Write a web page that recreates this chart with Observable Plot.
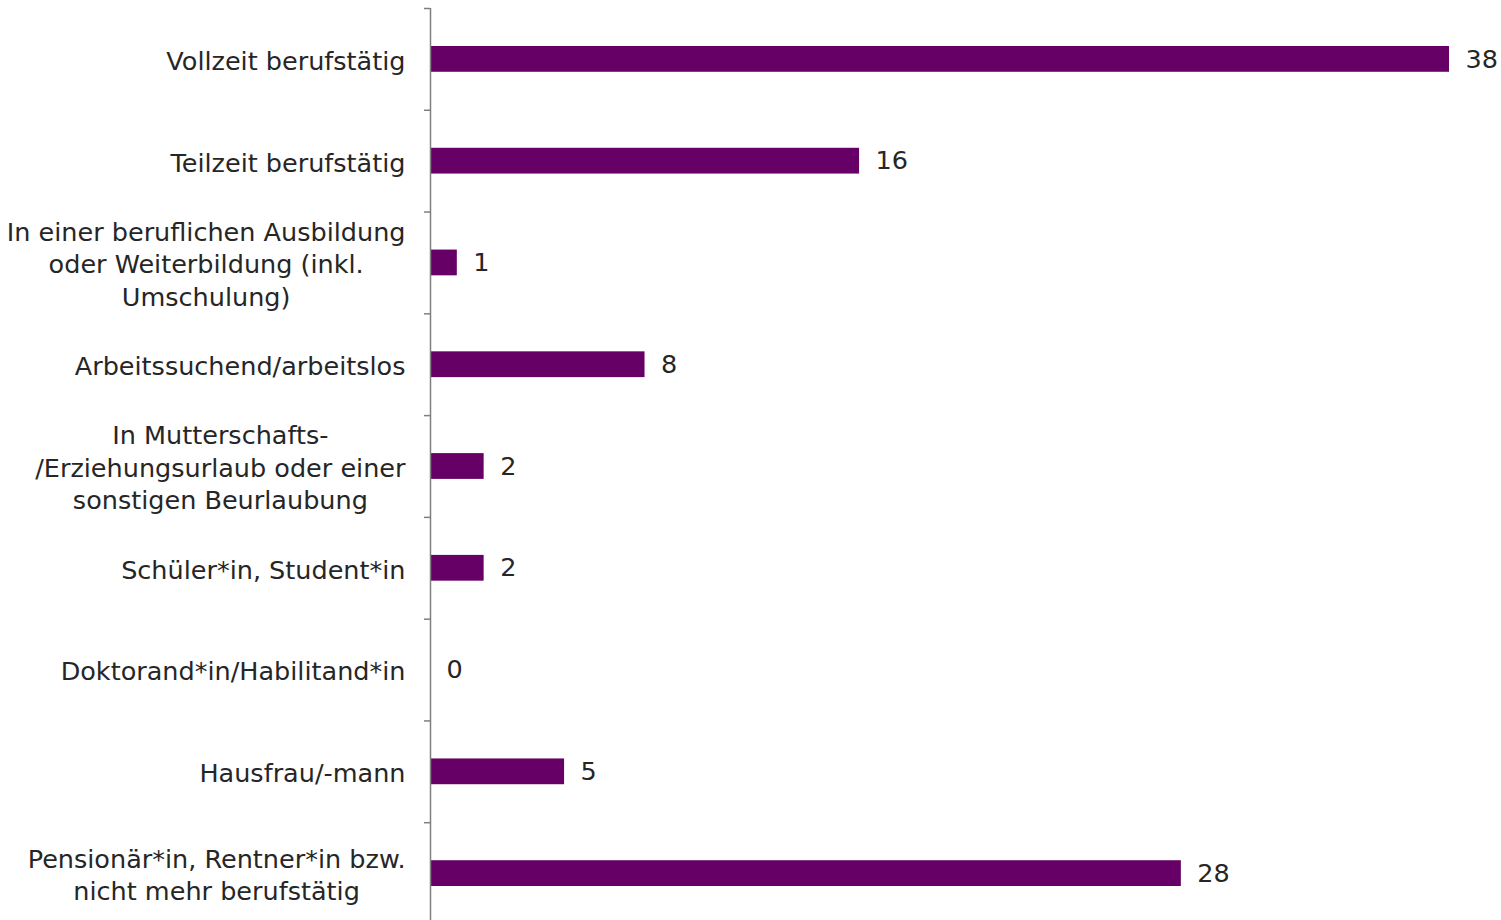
<!DOCTYPE html>
<html>
<head>
<meta charset="utf-8">
<script src="https://cdn.jsdelivr.net/npm/d3@7"></script>
<script src="https://cdn.jsdelivr.net/npm/@observablehq/plot@0.6"></script>
<style>
  html, body { margin: 0; padding: 0; background: #fff; }
  #chart svg { display: block; }
</style>
</head>
<body>
<div id="chart"></div>
<script>
const categories = [
  "Vollzeit berufstätig",
  "Teilzeit berufstätig",
  "In einer beruflichen Ausbildung\noder Weiterbildung (inkl.\nUmschulung)",
  "Arbeitssuchend/arbeitslos",
  "In Mutterschafts-\n/Erziehungsurlaub oder einer\nsonstigen Beurlaubung",
  "Schüler*in, Student*in",
  "Doktorand*in/Habilitand*in",
  "Hausfrau/-mann",
  "Pensionär*in, Rentner*in bzw.\nnicht mehr berufstätig"
];
const values = [38, 16, 1, 8, 2, 2, 0, 5, 28];

const data = categories.map((c, i) => ({category: c, value: values[i]}));
const FONT = "'DejaVu Sans', sans-serif";

const chart = Plot.plot({
  width: 1501,
  height: 920,
  marginTop: 8,
  marginBottom: 0,
  marginLeft: 430,
  marginRight: 52,
  style: {fontFamily: FONT, fontSize: "25.5px", background: "#fff"},
  x: {domain: [0, 38], range: [430, 1449], axis: null},
  y: {domain: categories, range: [8, 924], padding: 0, round: false, axis: null},
  marks: [
    Plot.barX(data, {x: "value", y: "category", fill: "#660066", insetTop: 38, insetBottom: 38}),
    Plot.ruleY(categories, {y: d => d, x1: 0, x2: 0, insetLeft: -6, dy: -50.9, stroke: "#7f7f7f", strokeWidth: 1.5}),
    Plot.ruleX([0], {stroke: "#7f7f7f", strokeWidth: 1.5}),
    Plot.text(data, {x: 0, y: "category", text: "category", textAnchor: "end", dx: -25, lineHeight: 1.27, fill: "#262626"}),
    Plot.text(data, {x: "value", y: "category", text: d => String(d.value), textAnchor: "start", dx: 16, fill: "#262626"})
  ]
});
document.getElementById("chart").appendChild(chart);

// center multi-line labels within their right-aligned block
chart.querySelectorAll("text").forEach(t => {
  const spans = t.querySelectorAll("tspan");
  if (spans.length > 1) {
    let w = 0;
    spans.forEach(s => { w = Math.max(w, s.getComputedTextLength()); });
    t.setAttribute("text-anchor", "middle");
    t.style.textAnchor = "middle";
    const tr = t.getAttribute("transform") || "";
    t.setAttribute("transform", tr + ` translate(${-w / 2},0)`);
  }
});
</script>
</body>
</html>
